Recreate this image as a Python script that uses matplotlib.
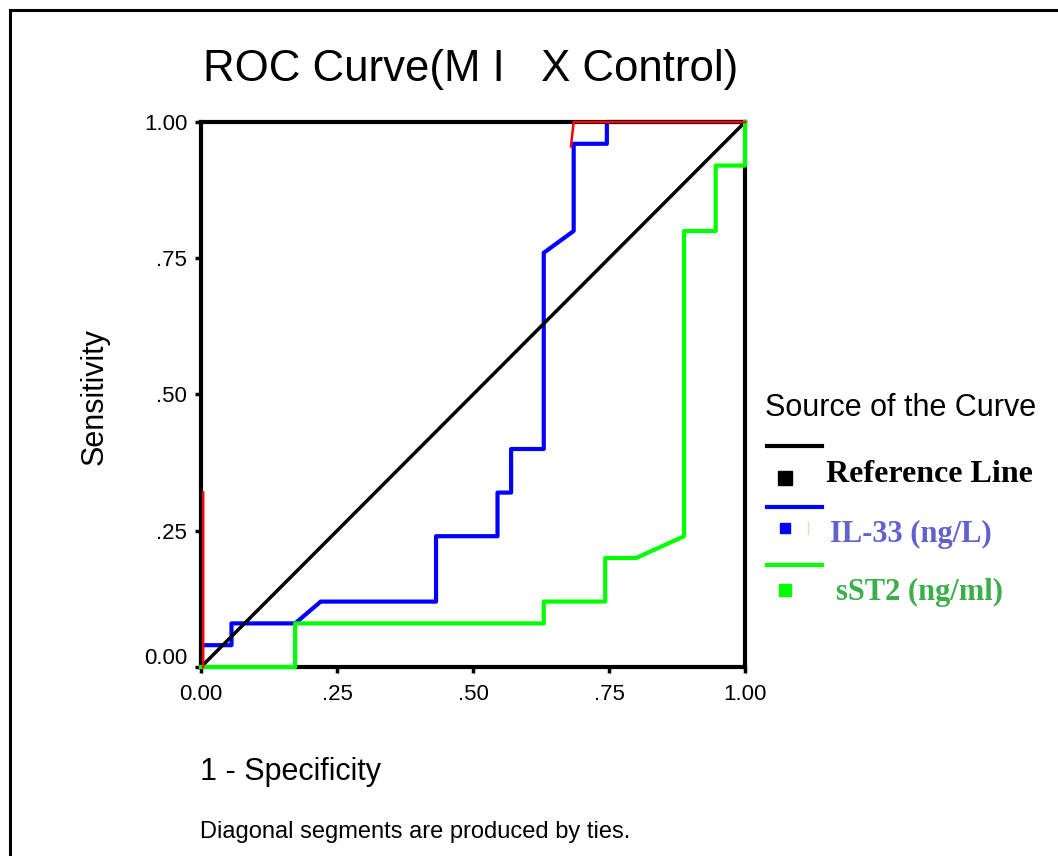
import numpy as np
import matplotlib.pyplot as plt
from matplotlib.lines import Line2D
from matplotlib.patches import Rectangle
import matplotlib.transforms as mtransforms

plt.rcParams['font.family'] = ['Liberation Sans', 'DejaVu Sans']

# ROC curve points
ref_x = [0, 1]
ref_y = [0, 1]

il33_fpr = [0, 0, 0.056, 0.056, 0.173, 0.22, 0.432, 0.432, 0.545, 0.545, 0.57, 0.57,
            0.63, 0.63, 0.685, 0.685, 0.746, 0.746, 1.0]
il33_tpr = [0, 0.04, 0.04, 0.08, 0.08, 0.12, 0.12, 0.24, 0.24, 0.32, 0.32, 0.40,
            0.40, 0.76, 0.80, 0.96, 0.96, 1.0, 1.0]

sst2_fpr = [0, 0.173, 0.173, 0.63, 0.63, 0.743, 0.743, 0.80, 0.888, 0.888, 0.946, 0.946, 1.0, 1.0]
sst2_tpr = [0, 0, 0.08, 0.08, 0.12, 0.12, 0.20, 0.20, 0.24, 0.80, 0.80, 0.92, 0.92, 1.0]

# stray red segments (hidden curve peeking out)
red_fpr = [0.004, 0.004, np.nan, 0.68, 0.685, 1.0]
red_tpr = [0, 0.32, np.nan, 0.955, 1.0, 1.0]

tick_vals = [0, 0.25, 0.5, 0.75, 1.0]
tick_labels = ["0.00", ".25", ".50", ".75", "1.00"]

legend_names = ["Reference Line", "IL-33 (ng/L)", "sST2 (ng/ml)"]
legend_lines = ["black", "#0000ff", "#00ff00"]
legend_text_colors = ["black", "#6262cf", "#3cae4a"]

fig = plt.figure(figsize=(10.58, 8.56), dpi=100)

# outer frame
fig.add_artist(Rectangle((10 / 1058, -0.05), 1.2, (856 - 10) / 856 + 0.05,
                         transform=fig.transFigure, fill=False, lw=2.2, ec="black"))

ax = fig.add_axes([0.19, 0.2208, 0.5142, 0.6367])
ax.plot(il33_fpr, il33_tpr, color="#0000ff", lw=3, zorder=2, clip_on=False)
ax.plot(ref_x, ref_y, color="black", lw=2.5, zorder=3)
ax.plot(sst2_fpr, sst2_tpr, color="#00ff00", lw=3, zorder=4, clip_on=False)
ax.plot(red_fpr, red_tpr, color="#ff0000", lw=1.8, zorder=5, clip_on=False)

ax.set_xlim(0, 1)
ax.set_ylim(0, 1)
for s in ax.spines.values():
    s.set_linewidth(3)
    s.set_zorder(3)
ax.set_xticks(tick_vals)
ax.set_xticklabels(tick_labels)
ax.set_yticks(tick_vals)
ax.set_yticklabels(tick_labels)
ax.tick_params(direction="out", length=4, width=2.5, labelsize=16, pad=6)
ax.tick_params(axis="x", pad=8)

# SPSS draws the lowest y label a bit higher
lab0 = ax.get_yticklabels()[0]
lab0.set_transform(lab0.get_transform() + mtransforms.ScaledTranslation(0, 8 / 72, fig.dpi_scale_trans))

fig.text(471 / 1058, 1 - 70 / 856, "ROC Curve(M I   X Control)", fontsize=31.5, ha="center", va="center")
fig.text(95 / 1058, 1 - 397 / 856, "Sensitivity", fontsize=22, rotation=90, ha="center", va="center")
fig.text(200 / 1058, 1 - 772 / 856, "1 - Specificity", fontsize=22, va="center", ha="left")
fig.text(200 / 1058, 1 - 832 / 856, "Diagonal segments are produced by ties.", fontsize=17,
         va="center", ha="left")

# legend drawn by hand
fig.text(765 / 1058, 1 - 408 / 856, "Source of the Curve", fontsize=22, va="center", ha="left")
line_y = [446, 507, 565]
sq_y = [478, 528, 590]
sq_size = [10, 7.5, 8]
text_x = [826, 830, 836]
text_y = [474, 534, 592]
text_size = [23, 22, 22]
for i, name in enumerate(legend_names):
    yl = 1 - line_y[i] / 856
    fig.add_artist(Line2D([767 / 1058, 822 / 1058], [yl, yl], color=legend_lines[i], lw=3,
                          transform=fig.transFigure))
    ys = 1 - sq_y[i] / 856
    fig.add_artist(Line2D([785 / 1058], [ys], marker="s", ms=sq_size[i], lw=0,
                          color=legend_lines[i], transform=fig.transFigure))
    fig.text(text_x[i] / 1058, 1 - text_y[i] / 856, name, fontsize=text_size[i], fontweight="bold",
             family=["Liberation Serif", "DejaVu Serif"], color=legend_text_colors[i],
             va="center", ha="left")

# faint mark next to the IL-33 square
fig.add_artist(Line2D([808 / 1058, 808 / 1058], [1 - 522 / 856, 1 - 534 / 856], color="#f3d9a8",
                      lw=1, transform=fig.transFigure))

fig.savefig("out.png", dpi=100)
